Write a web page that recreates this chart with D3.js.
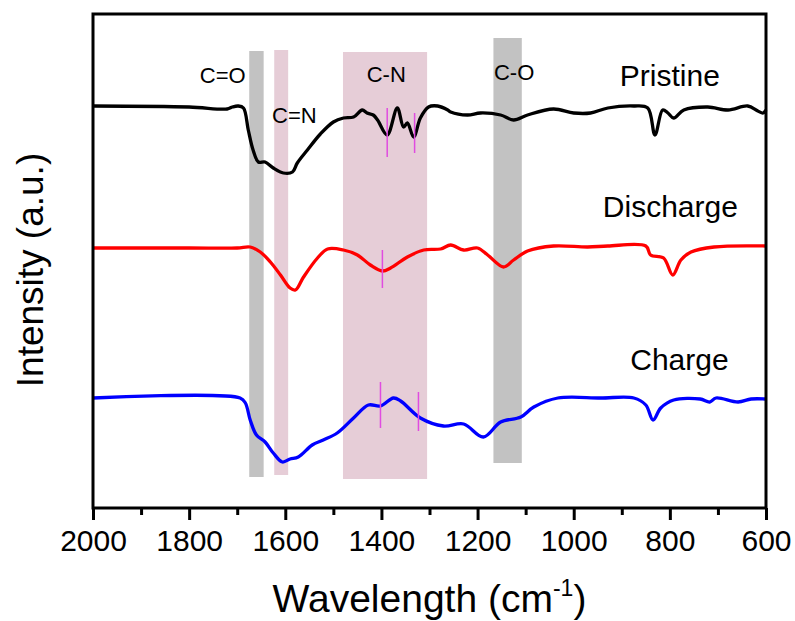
<!DOCTYPE html>
<html>
<head>
<meta charset="utf-8">
<script src="https://cdn.jsdelivr.net/npm/d3@7"></script>
<style>
  body { margin: 0; background: #fff; }
  svg text { font-family: "Liberation Sans", Arial, sans-serif; fill: #000; }
</style>
</head>
<body>
<svg id="plot"></svg>
<script>
// wavenumber (cm-1), intensity (a.u., series already offset)
const pristine = [
  [2000, 402], [1800, 401], [1721, 399], [1710, 401], [1698, 402], [1687, 400],
  [1677, 378], [1667, 358], [1656, 346], [1642, 346], [1625, 340], [1604, 335],
  [1585, 336], [1575, 345], [1554, 358], [1527, 374], [1500, 386], [1479, 390],
  [1458, 391], [1440, 398], [1430, 395], [1417, 393], [1408, 388], [1388, 373],
  [1367, 400], [1354, 381], [1346, 385], [1333, 371], [1319, 390], [1302, 401],
  [1283, 402], [1262, 398], [1256, 396], [1221, 393], [1194, 395], [1152, 393],
  [1125, 388], [1096, 393], [1042, 399], [1000, 395], [965, 395], [929, 400],
  [875, 402], [846, 400], [831, 373], [815, 398], [804, 395], [792, 390],
  [771, 398], [721, 401], [679, 398], [638, 402], [617, 397], [606, 395], [600, 398]
];
const discharge = [
  [2000, 260], [1800, 260], [1700, 260], [1673, 261], [1652, 256], [1631, 246],
  [1610, 233], [1590, 220], [1579, 218], [1562, 231], [1533, 250], [1512, 259],
  [1479, 258], [1450, 253], [1423, 243], [1398, 237], [1381, 240], [1346, 251],
  [1312, 258], [1277, 259], [1256, 263], [1229, 258], [1200, 260], [1179, 253],
  [1146, 241], [1125, 248], [1096, 257], [1042, 262], [971, 261], [929, 262],
  [850, 262], [840, 253], [813, 250], [794, 233], [777, 248], [756, 256],
  [708, 261], [600, 262]
];
const charge = [
  [2000, 110], [1694, 110], [1683, 105], [1673, 88], [1660, 73], [1642, 66],
  [1625, 55], [1606, 46], [1590, 49], [1573, 51], [1544, 63], [1521, 68],
  [1492, 75], [1458, 90], [1427, 103], [1402, 102], [1375, 110], [1360, 107],
  [1319, 90], [1271, 82], [1229, 84], [1188, 71], [1152, 86], [1110, 91],
  [1083, 101], [1033, 110], [944, 110], [875, 110], [850, 103], [835, 88],
  [819, 100], [792, 108], [737, 109], [717, 106], [704, 110], [658, 106],
  [631, 109], [600, 109]
];

// shaded bands: [from, to, bottom, top, kind]
const bands = [
  [1675, 1645, 31, 457, "grey"],
  [1623, 1594, 33, 458, "pink"],
  [1480, 1305, 29, 456, "pink"],
  [1167, 1108, 45, 470, "grey"]
];
// peak markers: [wavenumber, bottom, top]
const markers = [
  [1388, 351, 400], [1331, 355, 395],
  [1398, 220, 258],
  [1402, 80, 126], [1323, 77, 116]
];
// annotations: [text, wavenumber, intensity(baseline), size]
const labels = [
  ["C=O", 1730, 425, 22], ["C=N", 1581, 385, 22], ["C-N", 1390, 426, 22],
  ["C-O", 1124, 428, 22], ["Pristine", 800, 422, 30],
  ["Discharge", 799, 291, 30], ["Charge", 780, 138, 30]
];
const xTicks = [2000, 1800, 1600, 1400, 1200, 1000, 800, 600];
const xMinor = [1900, 1700, 1500, 1300, 1100, 900, 700];

const margin = { top: 14, right: 29, bottom: 113, left: 93 };
const width = 795 - margin.left - margin.right;
const height = 621 - margin.top - margin.bottom;

const svg = d3.select("#plot")
  .attr("width", 795)
  .attr("height", 621)
  .append("g")
  .attr("transform", `translate(${margin.left},${margin.top})`);

const x = d3.scaleLinear().domain([2000, 600]).range([0, width]);
const y = d3.scaleLinear().domain([0, height]).range([height, 0]);

// bands
svg.selectAll(".band")
  .data(bands)
  .enter()
  .append("rect")
  .attr("x", (d) => x(d[0]))
  .attr("width", (d) => x(d[1]) - x(d[0]))
  .attr("y", (d) => y(d[3]))
  .attr("height", (d) => y(d[2]) - y(d[3]))
  .attr("fill", (d) => (d[4] === "grey" ? "#c2c2c2" : "#e6cdd7"));

// curves
const line = d3.line()
  .x((d) => x(d[0]))
  .y((d) => y(d[1]))
  .curve(d3.curveCatmullRom.alpha(0.5));

[[pristine, "#000"], [discharge, "#ff0000"], [charge, "#0000ff"]].forEach(([data, color]) => {
  svg.append("path")
    .datum(data)
    .attr("fill", "none")
    .attr("stroke", color)
    .attr("stroke-width", 3.3)
    .attr("stroke-linejoin", "round")
    .attr("d", line);
});

// peak markers
svg.selectAll(".marker")
  .data(markers)
  .enter()
  .append("line")
  .attr("x1", (d) => x(d[0]))
  .attr("x2", (d) => x(d[0]))
  .attr("y1", (d) => y(d[1]))
  .attr("y2", (d) => y(d[2]))
  .attr("stroke", "#e04ce0")
  .attr("stroke-width", 1.5);

// annotations
svg.selectAll(".label")
  .data(labels)
  .enter()
  .append("text")
  .attr("x", (d) => x(d[1]))
  .attr("y", (d) => y(d[2]))
  .attr("text-anchor", "middle")
  .style("font-size", (d) => d[3] + "px")
  .text((d) => d[0]);

// frame
svg.append("rect")
  .attr("width", width)
  .attr("height", height)
  .attr("fill", "none")
  .attr("stroke", "#000")
  .attr("stroke-width", 3);

// x axis
const xAxis = svg.append("g")
  .attr("transform", `translate(0,${height})`)
  .call(d3.axisBottom(x).tickValues(xTicks).tickSize(12).tickPadding(10).tickFormat(d3.format("d")));
xAxis.select(".domain").remove();
xAxis.selectAll(".tick line").attr("stroke-width", 3);
xAxis.selectAll(".tick text")
  .style("font-size", "30px")
  .style("font-family", "'Liberation Sans', Arial, sans-serif");

const xMinorAxis = svg.append("g")
  .attr("transform", `translate(0,${height})`)
  .call(d3.axisBottom(x).tickValues(xMinor).tickSize(7).tickFormat(""));
xMinorAxis.select(".domain").remove();
xMinorAxis.selectAll(".tick line").attr("stroke-width", 3);

// axis titles
const xTitle = svg.append("text")
  .attr("x", width / 2)
  .attr("y", height + 104)
  .attr("text-anchor", "middle")
  .style("font-size", "39px");
xTitle.append("tspan").text("Wavelength (cm");
xTitle.append("tspan").attr("dy", -16).style("font-size", "23px").text("-1");
xTitle.append("tspan").attr("dy", 16).text(")");

svg.append("text")
  .attr("transform", "rotate(-90)")
  .attr("x", -256)
  .attr("y", -50)
  .attr("text-anchor", "middle")
  .style("font-size", "37px")
  .text("Intensity (a.u.)");
</script>
</body>
</html>
